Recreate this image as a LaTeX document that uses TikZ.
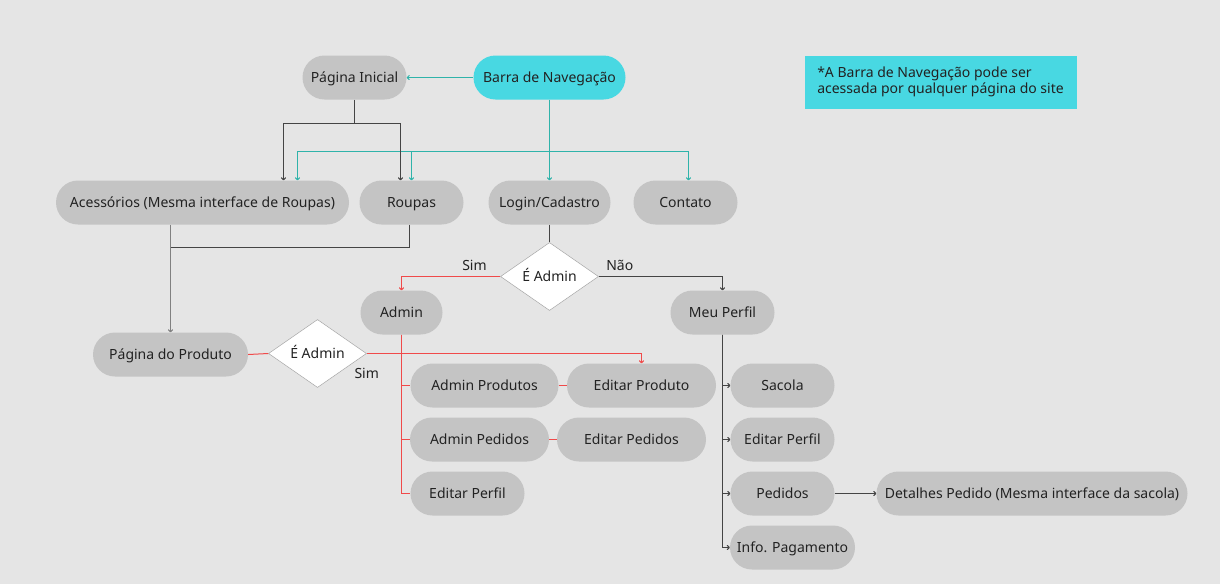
\documentclass[tikz,border=0pt]{standalone}
\usepackage{fontspec}
\setmainfont{Noto Sans}
\usepackage{xcolor}
\usepackage{tikz}
\usetikzlibrary{shapes.geometric, arrows.meta, positioning}
\definecolor{bgc}{HTML}{E5E5E5}
\definecolor{pillc}{HTML}{C4C4C4}
\definecolor{navc}{HTML}{48D8E2}
\definecolor{tealc}{HTML}{2FB3AA}
\definecolor{redc}{HTML}{F04A4A}
\definecolor{darkc}{HTML}{444444}
\definecolor{txtc}{HTML}{222222}
\tikzstyle{pill} = [rectangle, rounded corners=22pt, minimum height=44pt, inner sep=0pt, text height=10pt, text depth=0pt, text centered, fill=pillc, text=txtc, font=\fontsize{14}{16}\selectfont]
\tikzstyle{navpill} = [pill, fill=navc]
\tikzstyle{decision} = [diamond, minimum width=98pt, minimum height=68pt, inner sep=0pt, aspect=1.44, text height=10pt, text depth=0pt, text centered, fill=white, draw=gray!70, line width=0.5pt, text=txtc, font=\fontsize{14}{16}\selectfont]
\tikzstyle{note} = [rectangle, minimum width=272pt, minimum height=53pt, align=left, fill=navc, text=txtc, font=\fontsize{14}{16.5}\selectfont]
\tikzstyle{lbl} = [text=txtc, font=\fontsize{14}{16}\selectfont, text height=10pt, text depth=0pt, inner sep=2pt]
\tikzstyle{tealarrow} = [color=tealc, line width=1pt, -{To[length=3pt,width=5pt]}]
\tikzstyle{darkline} = [color=darkc, line width=1pt]
\tikzstyle{darkarrow} = [darkline, -{To[length=3pt,width=5pt]}]
\tikzstyle{redline} = [color=redc, line width=1pt]
\tikzstyle{redarrow} = [redline, -{To[length=3pt,width=5pt]}]
\begin{document}
\begin{tikzpicture}[x=1pt, y=-1pt]
   \fill[bgc] (0,0) rectangle (1220,584);
   \useasboundingbox (0,0) rectangle (1220,584);
   \begin{scope}[shift={(0.5,0.5)}]
   % top row
   \node (ini) [pill, minimum width=104pt] at (354,77) {Página Inicial};
   \node (nav) [navpill, minimum width=152pt] at (549,77) {Barra de Navegação};
   \node (obs) [note] at (940,81.5) {*A Barra de Navegação pode ser\\acessada por qualquer página do site};
   % second row
   \node (acess) [pill, minimum width=293pt] at (202,202) {Acessórios (Mesma interface de Roupas)};
   \node (roupas) [pill, minimum width=104pt] at (411,202) {Roupas};
   \node (login) [pill, minimum width=122pt] at (549,202) {Login/Cadastro};
   \node (contato) [pill, minimum width=104pt] at (685,202) {Contato};
   \node (adm1) [decision] at (549,276) {É Admin};
   \node (admin) [pill, minimum width=82pt] at (401,312) {Admin};
   \node (perfil) [pill, minimum width=104pt] at (722,312) {Meu Perfil};
   \node (produto) [pill, minimum width=155pt] at (170,354) {Página do Produto};
   \node (adm2) [decision] at (317,353) {É Admin};
   % admin
   \node (admprod) [pill, minimum width=148pt] at (484,385) {Admin Produtos};
   \node (editprod) [pill, minimum width=149pt] at (641,385) {Editar Produto};
   \node (admped) [pill, minimum width=139pt] at (479,439) {Admin Pedidos};
   \node (editped) [pill, minimum width=149pt] at (631,439) {Editar Pedidos};
   \node (admperfil) [pill, minimum width=114pt] at (467,493) {Editar Perfil};
   % meu perfil
   \node (sacola) [pill, minimum width=104pt] at (782,385) {Sacola};
   \node (editperfil) [pill, minimum width=104pt] at (782,439) {Editar Perfil};
   \node (pedidos) [pill, minimum width=104pt] at (782,493) {Pedidos};
   \node (detalhes) [pill, minimum width=311pt] at (1031.5,493) {Detalhes Pedido (Mesma interface da sacola)};
   \node (pagto) [pill, minimum width=125pt] at (792,547) {Info. Pagamento};
   \node (sim2) [lbl, below=13pt of adm2.east] {Sim};
   \coordinate (navbus) at (549,151);
   \coordinate (inibus) at (354,123);
   \coordinate (prodbus) at (170,247);
   % admin (vermelho)
   \draw [redline] (produto.east) -- (adm2.west);
   \draw [redarrow] (adm2.east) -| (editprod.north);
   \draw [redarrow] (adm1.west) -| (admin.north);
   \draw [redline] (admin.south) |- (admprod.west);
   \draw [redline] (admin.south) |- (admped.west);
   \draw [redline] (admin.south) |- (admperfil.west);
   \draw [redline] (admprod.east) -- (editprod.west);
   \draw [redline] (admped.east) -- (editped.west);
   \node (sim1) [lbl, above=4pt] at (474,276) {Sim};
   % barra de navegacao
   \draw [tealarrow] (nav.west) -- (ini.east);
   \draw [tealarrow] (navbus) -| ([xshift=95pt]acess.north);
   \draw [tealarrow] (navbus) -| (roupas.north);
   \draw [tealarrow] (navbus) -| ([xshift=3pt]contato.north);
   \draw [tealarrow] (nav.south) -- (login.north);
   % pagina inicial
   \draw [darkline] (ini.south) -- (inibus);
   \draw [darkarrow] (inibus) -| ([xshift=81pt]acess.north);
   \draw [darkarrow] (inibus) -| ([xshift=-11pt]roupas.north);
   \draw [darkarrow, color=gray] (acess.south -| produto.north) -- (produto.north);
   \draw [darkline] ([xshift=-2pt]roupas.south) |- (prodbus);
   % login
   \draw [darkline] (login.south) -- (adm1.north);
   \draw [darkarrow] (adm1.east) -| node (nao) [lbl, pos=0.085, above=4pt] {Não} (perfil.north);
   % meu perfil
   \draw [darkarrow] (perfil.south) |- (sacola.west);
   \draw [darkarrow] (perfil.south) |- (editperfil.west);
   \draw [darkarrow] (perfil.south) |- (pedidos.west);
   \draw [darkarrow] (perfil.south) |- (pagto.west);
   \draw [darkarrow] (pedidos.east) -- (detalhes.west);
   \end{scope}
\end{tikzpicture}
\end{document}
